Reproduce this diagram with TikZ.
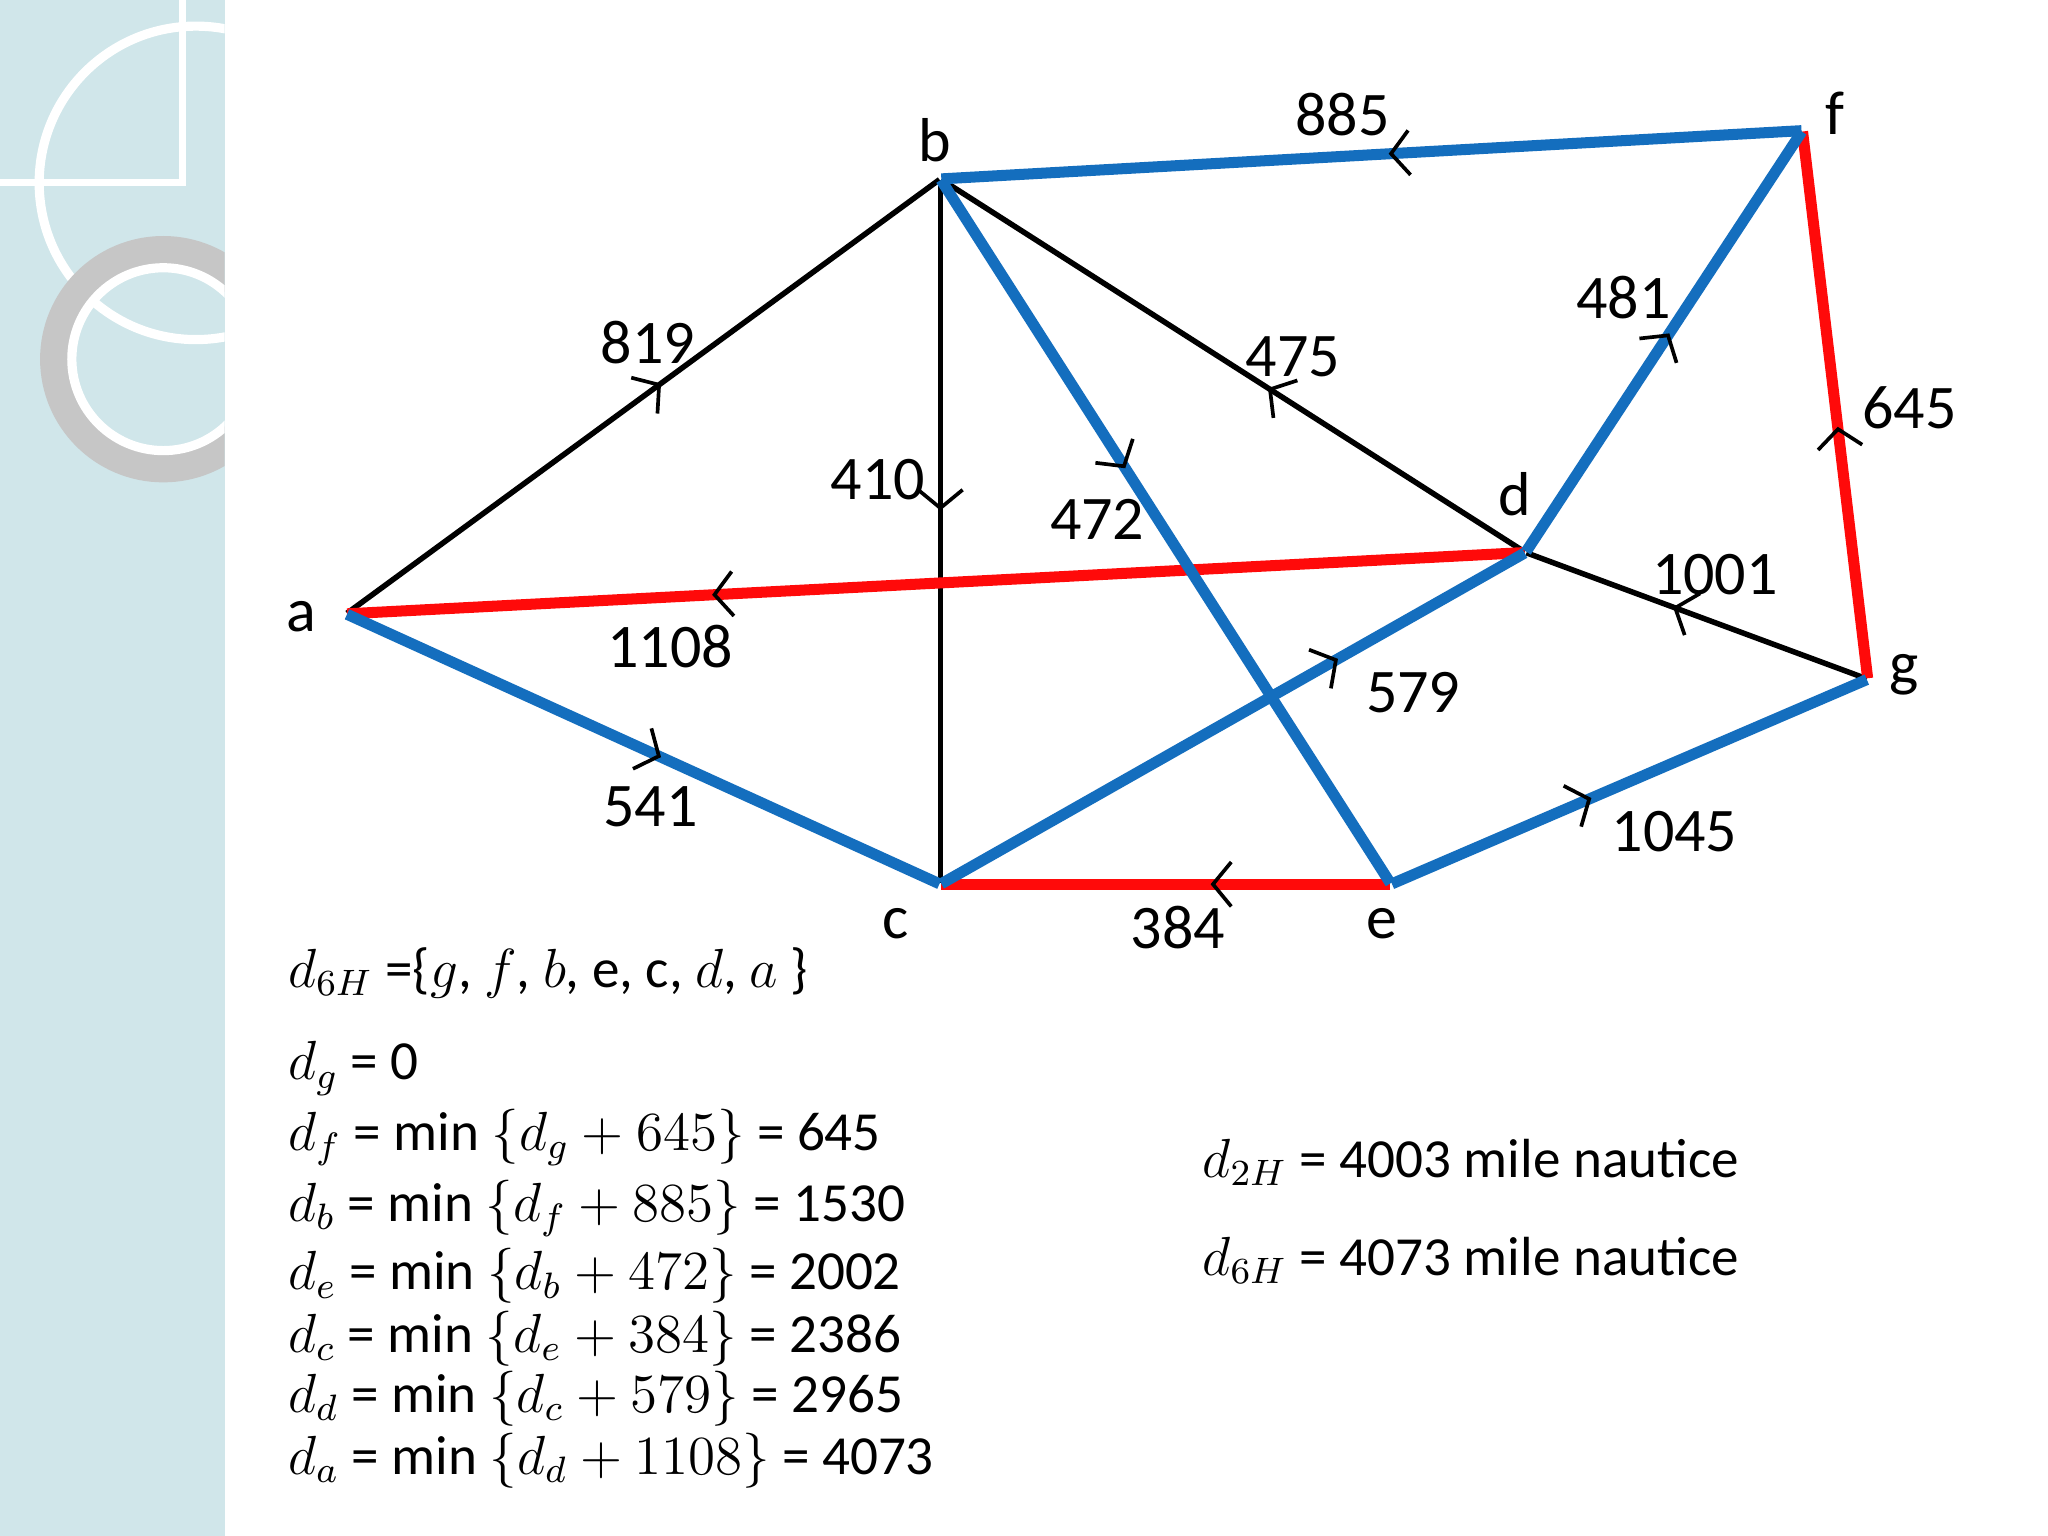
\documentclass[tikz,border=0pt]{standalone}
\usepackage{fontspec}
\setmainfont{Carlito}
\usetikzlibrary{arrows.meta,decorations.markings}
\definecolor{eblue}{RGB}{20,110,190}
\definecolor{ered}{RGB}{255,10,10}
\definecolor{strip}{RGB}{208,230,234}
\tikzset{
  markarr/.style={postaction={decorate,decoration={markings,mark=at position #1 with {\arrow[black,line width=0.8pt]{Straight Barb[length=1.4mm,width=3.4mm]}}}}},
  thin edge/.style={black,line width=1.2pt},
  blue edge/.style={eblue,line width=2.4pt},
  red edge/.style={ered,line width=2.4pt},
  lbl/.style={font=\fontsize{13.5}{16}\selectfont,inner sep=1pt},
  vtx/.style={inner sep=0pt,minimum size=0pt},
  frm/.style={anchor=west,font=\fontsize{12}{14}\selectfont,inner sep=0pt}
}
\begin{document}
\begin{tikzpicture}[x=0.01cm,y=-0.01cm]
\useasboundingbox (0,0) rectangle (1568,1176);
\fill[white] (0,0) rectangle (1568,1176);
\fill[strip] (0,0) rectangle (172,1176);
\begin{scope}
\clip (0,0) rectangle (172,1176);
\draw[white,line width=2pt] (150,140) circle (120);
\draw[gray!45,line width=7pt] (125,275) circle (82);
\draw[white,line width=2pt] (125,275) circle (70);
\draw[white,line width=1.5pt] (0,140) -- (140,140) -- (140,0);
\end{scope}
% vertices
\node[vtx] (a) at (265,470) {};
\node[vtx] (b) at (720,137) {};
\node[vtx] (f) at (1380,100) {};
\node[vtx] (d) at (1168,423) {};
\node[vtx] (g) at (1430,520) {};
\node[vtx] (c) at (720,677) {};
\node[vtx] (e) at (1065,677) {};
% edges
\draw[thin edge,markarr=0.53] (a) -- (b);
\draw[thin edge,markarr=0.47] (b) -- (c);
\draw[thin edge,markarr=0.44] (d) -- (b);
\draw[thin edge,markarr=0.57] (g) -- (d);
\draw[red edge,markarr=0.69] (d) -- (a);
\draw[red edge,markarr=0.40] (e) -- (c);
\draw[red edge,markarr=0.46] (g) -- (f);
\draw[blue edge,markarr=0.48] (f) -- (b);
\draw[blue edge,markarr=0.41] (b) -- (e);
\draw[blue edge,markarr=0.52] (d) -- (f);
\draw[blue edge,markarr=0.53] (a) -- (c);
\draw[blue edge,markarr=0.68] (c) -- (d);
\draw[blue edge,markarr=0.42] (e) -- (g);
% vertex labels
\node[lbl] (la) at (231,472) {a};
\node[lbl] (lb) at (716,107) {b};
\node[lbl] (lf) at (1405,87) {f};
\node[lbl] (lg) at (1458,517) {g};
\node[lbl] (lc) at (686,707) {c};
\node[lbl] (le) at (1058,707) {e};
\node[lbl] (ld) at (1160,378) {d};
% weights
\node[lbl] (w885) at (1028,88) {885};
\node[lbl] (w481) at (1243,228) {481};
\node[lbl] (w645) at (1462,312) {645};
\node[lbl] (w475) at (990,273) {475};
\node[lbl] (w819) at (496,262) {819};
\node[lbl] (w410) at (672,367) {410};
\node[lbl] (w472) at (840,398) {472};
\node[lbl] (w1001) at (1313,440) {1001};
\node[lbl] (w1108) at (513,495) {1108};
\node[lbl] (w579) at (1082,530) {579};
\node[lbl] (w541) at (498,618) {541};
\node[lbl] (w1045) at (1282,637) {1045};
\node[lbl] (w384) at (902,710) {384};
% formulas
\node[frm] (f0) at (220,745) {$d_{6H}$ =\{$g$, $f$, $b$, e, c, $d$, $a$ \}};
\node[frm] (f1) at (220,818) {$d_g$ = 0};
\node[frm] (f2) at (220,871) {$d_f$ = min $\{d_g+645\}$ = 645};
\node[frm] (f3) at (220,925) {$d_b$ = min $\{d_f+885\}$ = 1530};
\node[frm] (f4) at (220,977) {$d_e$ = min $\{d_b+472\}$ = 2002};
\node[frm] (f5) at (220,1025) {$d_c$ = min $\{d_e+384\}$ = 2386};
\node[frm] (f6) at (220,1071) {$d_d$ = min $\{d_c+579\}$ = 2965};
\node[frm] (f7) at (220,1118) {$d_a$ = min $\{d_d+1108\}$ = 4073};
\node[frm] (r1) at (920,890) {$d_{2H}$ = 4003 mile nautice};
\node[frm] (r2) at (920,965) {$d_{6H}$ = 4073 mile nautice};
\end{tikzpicture}
\end{document}
